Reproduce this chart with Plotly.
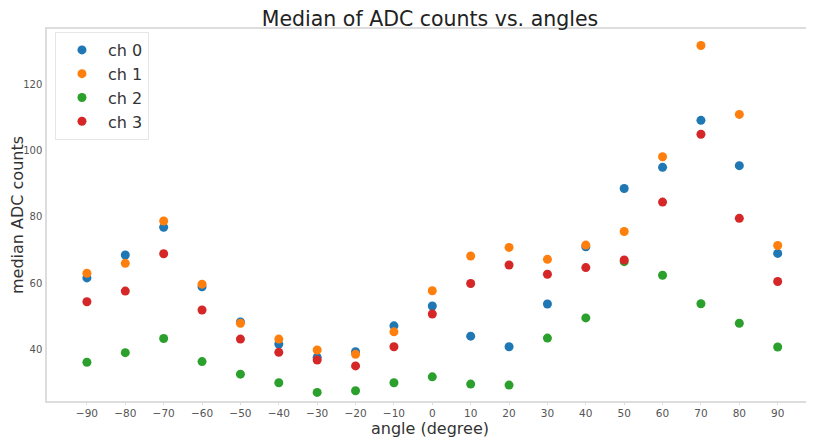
import plotly.graph_objects as go

angles = [-90, -80, -70, -60, -50, -40, -30, -20, -10, 0, 10, 20, 30, 40, 50, 60, 70, 80, 90]
ch0 = [61.6, 68.5, 76.9, 58.9, 48.3, 41.6, 37.6, 39.3, 47.1, 53.1, 44.0, 40.8, 53.7, 71.0, 88.6, 95.0, 109.2, 95.5, 69.0]
ch1 = [63.0, 66.0, 78.8, 59.7, 47.9, 43.1, 39.8, 38.5, 45.3, 57.7, 68.2, 70.8, 67.2, 71.5, 75.6, 98.2, 131.8, 111.0, 71.4]
ch2 = [36.1, 39.0, 43.3, 36.3, 32.5, 29.9, 27.0, 27.5, 29.9, 31.7, 29.5, 29.2, 43.4, 49.5, 66.5, 62.4, 53.8, 47.9, 40.7]
ch3 = [54.4, 57.6, 68.9, 51.9, 43.1, 39.1, 36.8, 35.0, 40.8, 50.7, 59.9, 65.5, 62.7, 64.7, 67.0, 84.5, 105.0, 79.6, 60.5]

names = ["ch 0", "ch 1", "ch 2", "ch 3"]
series = [ch0, ch1, ch2, ch3]
colors = ["#1f77b4", "#ff7f0e", "#2ca02c", "#d62728"]

x_ticks = list(range(-90, 91, 10))
y_ticks = [40, 60, 80, 100, 120]

W, H = 806, 439

fig = go.Figure()
for name, vals, col in zip(names, series, colors):
    fig.add_trace(go.Scatter(
        x=angles, y=vals, mode="markers", name=name,
        marker=dict(color=col, size=9, line=dict(width=0)),
    ))

fig.update_layout(
    width=W, height=H,
    margin=dict(l=39, r=1, t=21, b=46, autoexpand=False),
    paper_bgcolor="white", plot_bgcolor="white",
    font=dict(family="DejaVu Sans", color="#333333"),
    title=dict(text="Median of ADC counts vs. angles", x=422 / W, xanchor="center",
               y=1 - 11 / H, yanchor="middle", yref="container", automargin=False,
               font=dict(size=20.5, color="#222222")),
    showlegend=True,
    legend=dict(x=0.0104, y=0.992, xanchor="left", yanchor="top",
                bgcolor="white", bordercolor="#e6e6e6", borderwidth=1,
                font=dict(size=16, color="#333333"),
                itemsizing="trace", itemwidth=42, tracegroupgap=0),
    xaxis=dict(range=[-100.4, 99.2], tickvals=x_ticks, ticktext=[str(v).replace("-", "\u2212") for v in x_ticks],
               showgrid=False, zeroline=False, showline=True, mirror=True,
               linecolor="#dddddd", linewidth=1.5, automargin=False,
               ticks="outside", ticklen=2, tickcolor="#dddddd",
               tickfont=dict(size=10.5, color="#555555"),
               title=dict(text="angle (degree)", font=dict(size=16, color="#333333"), standoff=3)),
    yaxis=dict(range=[24.4, 136.8], tickvals=y_ticks,
               showgrid=False, zeroline=False, showline=True, mirror=True,
               linecolor="#dddddd", linewidth=1.5, automargin=False,
               ticks="", ticklabelstandoff=1,
               tickfont=dict(size=10, color="#555555"),
               title=dict(text="median ADC counts", font=dict(size=16, color="#333333"), standoff=4)),
)

fig.write_html("out.html")
